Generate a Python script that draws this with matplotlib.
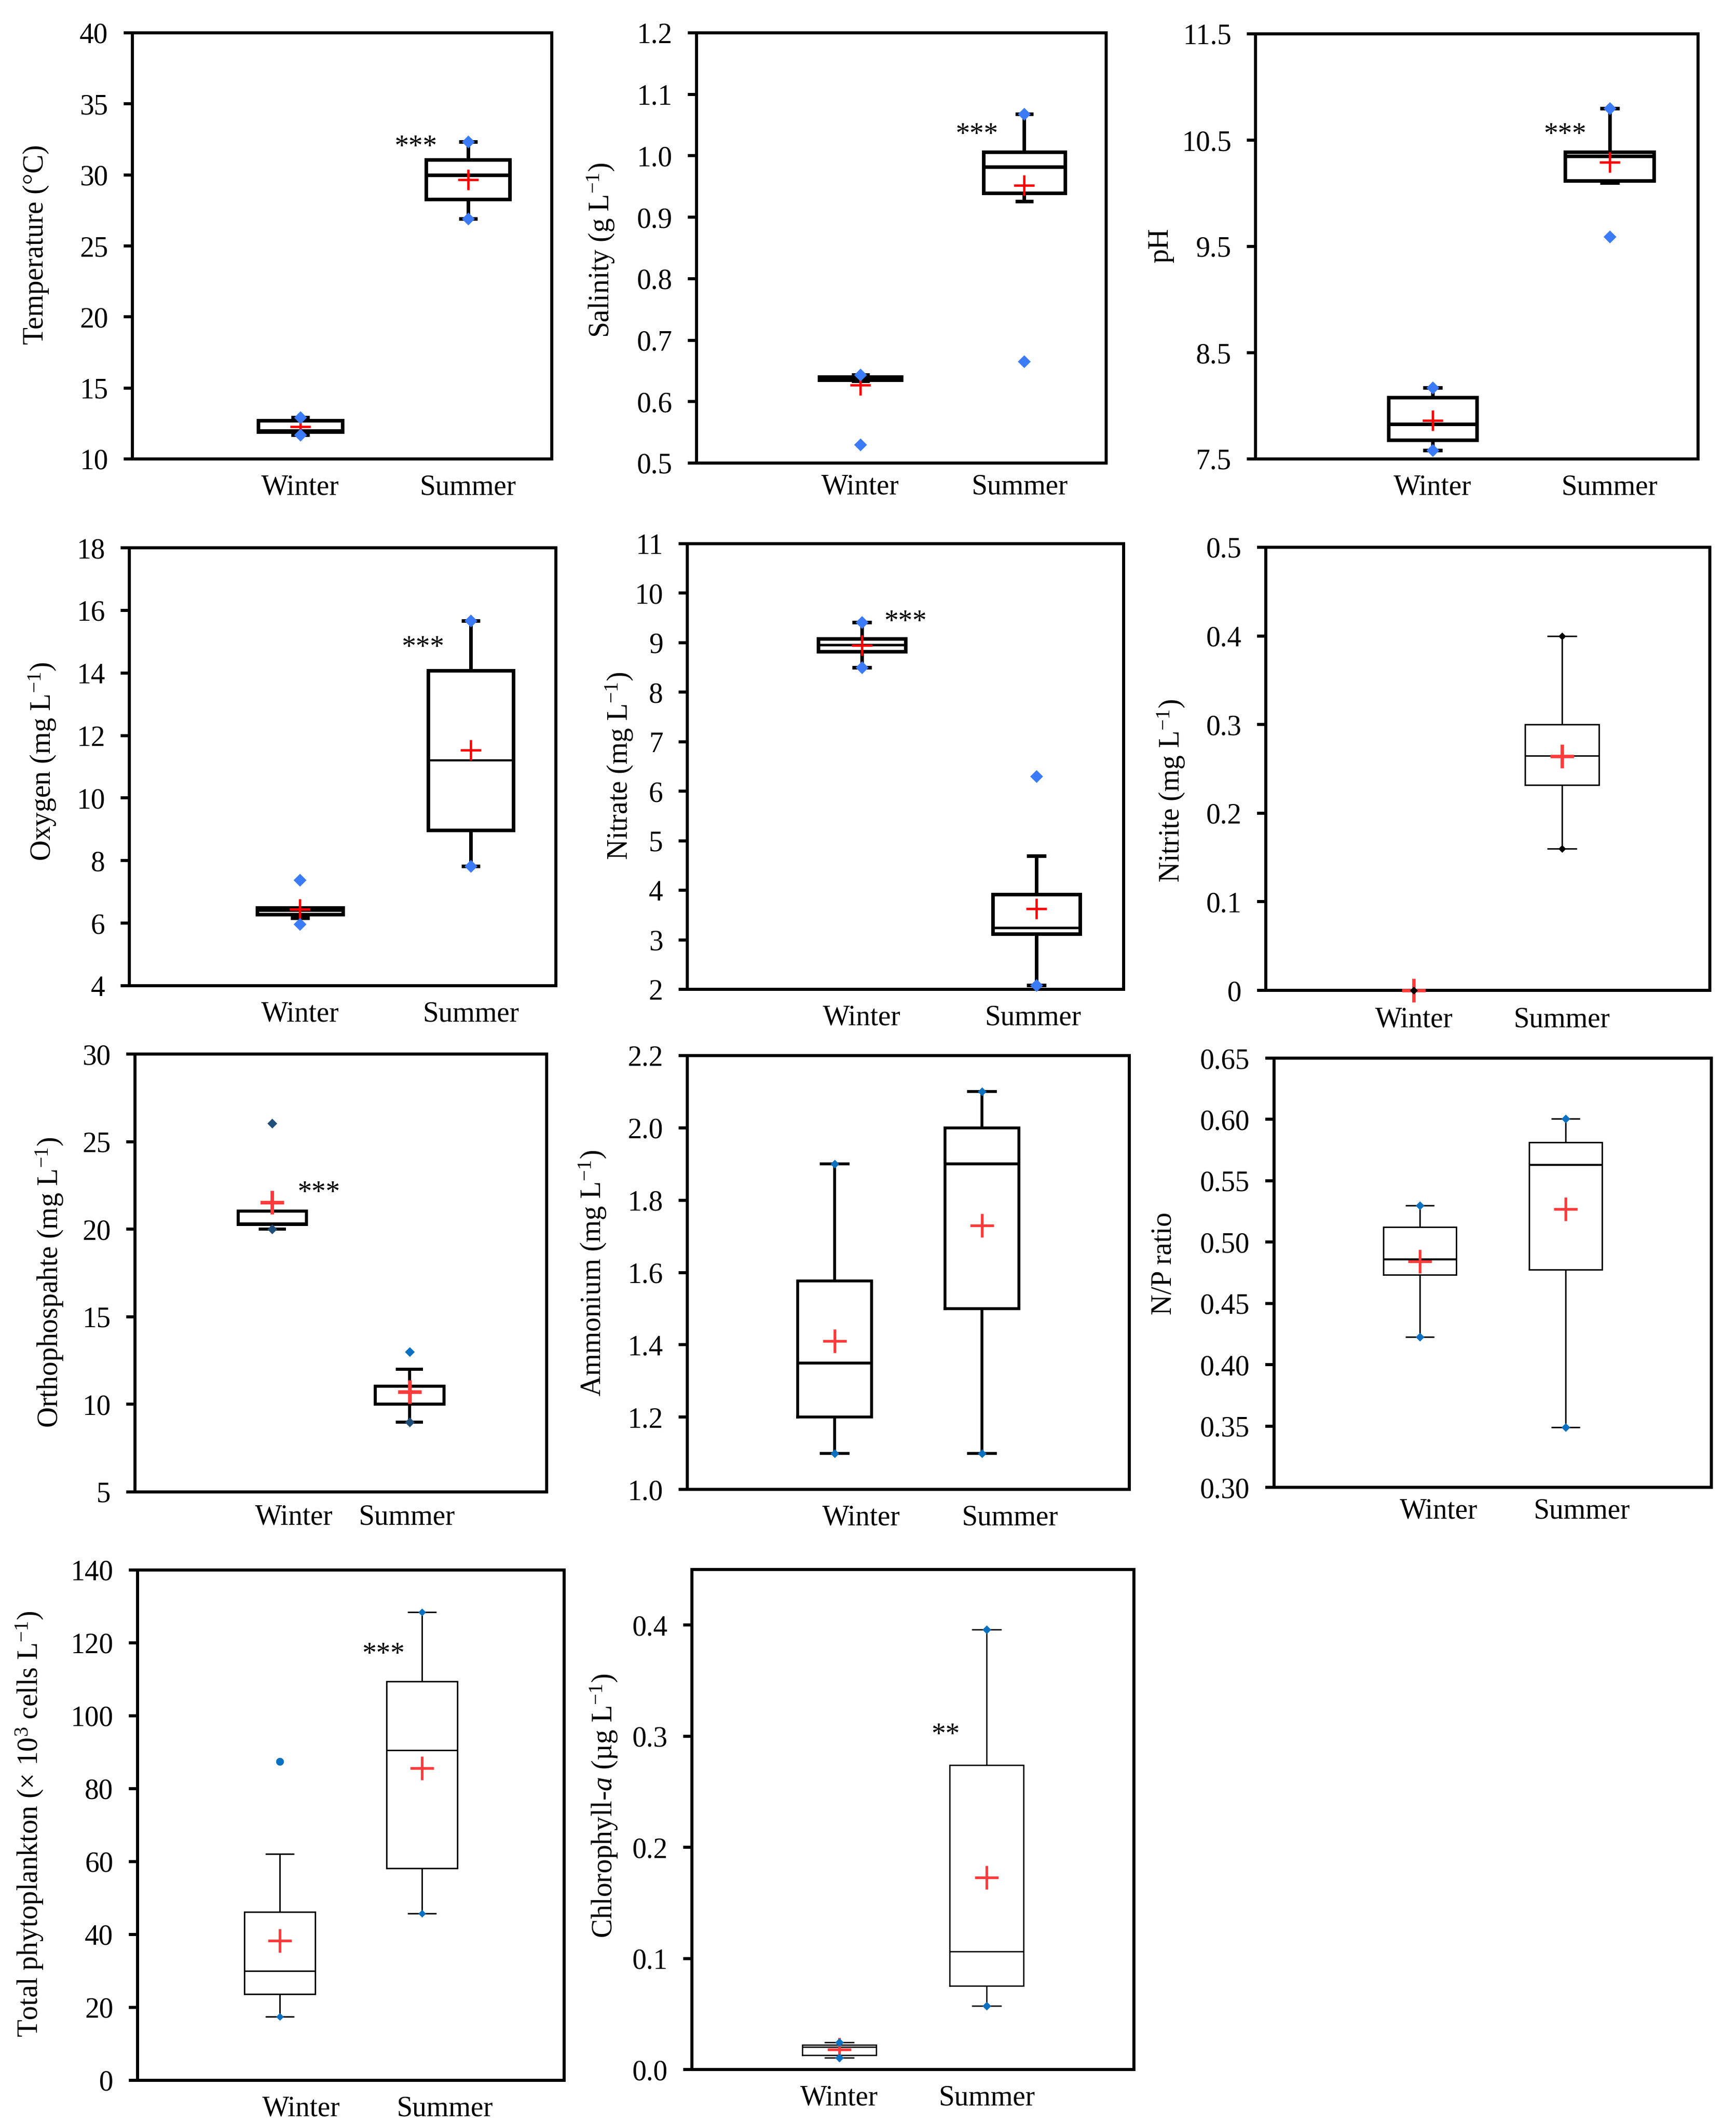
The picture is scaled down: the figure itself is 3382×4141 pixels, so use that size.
import numpy as np
import matplotlib
matplotlib.use('Agg')
import matplotlib.pyplot as plt

plt.rcParams['font.family'] = ['Liberation Serif', 'DejaVu Serif']
plt.rcParams['mathtext.fontset'] = 'custom'
plt.rcParams['mathtext.rm'] = 'Liberation Serif'
plt.rcParams['mathtext.it'] = 'Liberation Serif:italic'

W, H, DPI = 3382, 4141, 100
seasons = ['Winter', 'Summer']

# box values per season: whisker low, q1, median, q3, whisker high
temp_box = [(11.7, 11.92, 12.0, 12.71, 12.94), (26.9, 28.3, 30.0, 31.08, 32.32)]
temp_mean = [12.26, 29.65]
temp_min = [11.7, 26.9]
temp_max = [12.94, 32.32]

sal_box = [(0.634, 0.635, 0.638, 0.640, 0.644), (0.926, 0.939, 0.982, 1.006, 1.068)]
sal_mean = [0.627, 0.952]
sal_min = [0.530, 0.665]
sal_max = [0.644, 1.068]

ph_box = [(7.58, 7.68, 7.83, 8.08, 8.17), (10.10, 10.12, 10.35, 10.39, 10.80)]
ph_mean = [7.86, 10.29]
ph_min = [7.58, 9.59]
ph_max = [8.17, 10.80]

oxy_box = [(6.16, 6.28, 6.39, 6.49, 6.49), (7.83, 8.98, 11.2, 14.08, 15.67)]
oxy_mean = [6.44, 11.54]
oxy_min = [5.97, 7.83]
oxy_max = [7.38, 15.67]

nitrate_box = [(8.50, 8.82, 8.96, 9.08, 9.41), (2.08, 3.12, 3.24, 3.92, 4.70)]
nitrate_mean = [8.95, 3.63]
nitrate_min = [8.50, 2.08]
nitrate_max = [9.41, 6.30]

nitrite_box = [(0, 0, 0, 0, 0), (0.160, 0.232, 0.265, 0.300, 0.400)]
nitrite_mean = [0.0, 0.264]
nitrite_min = [0.0, 0.160]
nitrite_max = [0.0, 0.400]

ortho_box = [(20.0, 20.26, 20.3, 21.03, 21.03), (9.0, 10.0, 10.0, 11.04, 12.0)]
ortho_mean = [21.54, 10.71]
ortho_min = [20.0, 9.0]
ortho_max = [26.03, 13.0]

amm_box = [(1.10, 1.20, 1.35, 1.576, 1.90), (1.10, 1.50, 1.90, 2.00, 2.10)]
amm_mean = [1.41, 1.73]
amm_min = [1.10, 1.10]
amm_max = [1.90, 2.10]

np_box = [(0.4227, 0.4734, 0.4857, 0.5122, 0.530), (0.3489, 0.4776, 0.5629, 0.5812, 0.6008)]
np_mean = [0.4844, 0.527]
np_min = [0.4227, 0.3489]
np_max = [0.530, 0.6008]

phyto_box = [(17.4, 23.6, 30.05, 46.2, 62.05), (45.8, 58.2, 90.5, 109.4, 128.4)]
phyto_mean = [38.3, 85.6]
phyto_min = [17.4, 45.8]
phyto_max = [87.4, 128.4]

chl_box = [(0.0104, 0.0131, 0.0205, 0.0222, 0.0246), (0.0572, 0.0754, 0.1064, 0.274, 0.396)]
chl_mean = [0.0182, 0.173]
chl_min = [0.0104, 0.0572]
chl_max = [0.0246, 0.396]

# axis texts and ticks
temp_ticks = [10, 15, 20, 25, 30, 35, 40]
sal_ticks = [0.5, 0.6, 0.7, 0.8, 0.9, 1.0, 1.1, 1.2]
ph_ticks = [7.5, 8.5, 9.5, 10.5, 11.5]
oxy_ticks = [4, 6, 8, 10, 12, 14, 16, 18]
nitrate_ticks = [2, 3, 4, 5, 6, 7, 8, 9, 10, 11]
nitrite_ticks = [0, 0.1, 0.2, 0.3, 0.4, 0.5]
ortho_ticks = [5, 10, 15, 20, 25, 30]
amm_ticks = [1.0, 1.2, 1.4, 1.6, 1.8, 2.0, 2.2]
np_ticks = [0.30, 0.35, 0.40, 0.45, 0.50, 0.55, 0.60, 0.65]
phyto_ticks = [0, 20, 40, 60, 80, 100, 120, 140]
chl_ticks = [0.0, 0.1, 0.2, 0.3, 0.4]

BLUE1 = '#3b7bf7'
BLUE2 = '#0a70c0'
NAVY = '#1f4e79'

# panel layout in pixels: left, top, right, bottom ; label centre (x offset, y)
panels = [
    dict(box=temp_box, mean=temp_mean, vmin=temp_min, vmax=temp_max,
         ylabel='Temperature (°C)', ticks=temp_ticks, fmt='{:.0f}', ylim=(10, 40),
         rect=(258, 64, 1075, 894), lab=(-188, 476), style='A', stars=('***', 1.69, 32.86)),
    dict(box=sal_box, mean=sal_mean, vmin=sal_min, vmax=sal_max,
         ylabel='Salinity (g L$^{-1}$)', ticks=sal_ticks, fmt='{:.1f}', ylim=(0.5, 1.2),
         rect=(1357, 64, 2155, 902), lab=(-186, 487), style='A', stars=('***', 1.71, 1.055),
         xl=[1, 1.97], xpad=15),
    dict(box=ph_box, mean=ph_mean, vmin=ph_min, vmax=ph_max,
         ylabel='pH', ticks=ph_ticks, fmt='{:.1f}', ylim=(7.5, 11.5),
         rect=(2446, 66, 3308, 894), lab=(-185, 478), style='A', stars=('***', 1.75, 10.67)),
    dict(box=oxy_box, mean=oxy_mean, vmin=oxy_min, vmax=oxy_max,
         ylabel='Oxygen (mg L$^{-1}$)', ticks=oxy_ticks, fmt='{:.0f}', ylim=(4, 18),
         rect=(252, 1067, 1083, 1920), lab=(-169, 1483), style='A', mlw=3.0,
         stars=('***', 1.72, 15.21)),
    dict(box=nitrate_box, mean=nitrate_mean, vmin=nitrate_min, vmax=nitrate_max,
         ylabel='Nitrate (mg L$^{-1}$)', ticks=nitrate_ticks, fmt='{:.0f}', ylim=(2, 11),
         rect=(1339, 1059, 2189, 1927), lab=(-132, 1492), style='A', mlw=3.5,
         stars=('***', 1.25, 9.67), xl=[1, 1.98]),
    dict(box=nitrite_box, mean=nitrite_mean, vmin=nitrite_min, vmax=nitrite_max,
         ylabel='Nitrite (mg L$^{-1}$)', ticks=nitrite_ticks, fmt='{:g}', ylim=(0, 0.5),
         rect=(2466, 1066, 3331, 1929), lab=(-184, 1540), style='B', lw=2.0,
         dot='k', dms=7.5, pmew=4.8, xpad=23),
    dict(box=ortho_box, mean=ortho_mean, vmin=ortho_min, vmax=ortho_max,
         ylabel='Orthophospahte (mg L$^{-1}$)', ticks=ortho_ticks, fmt='{:.0f}', ylim=(5, 30),
         rect=(263, 2053, 1065, 2906), lab=(-166, 2498), style='B', lw=4.3,
         dot=NAVY, dotmax=[NAVY, BLUE2], dms=9, pmew=5.0, stars=('***', 1.34, 22.8),
         xl=[1.16, 1.98], xpad=17),
    dict(box=amm_box, mean=amm_mean, vmin=amm_min, vmax=amm_max,
         ylabel='Ammonium (mg L$^{-1}$)', ticks=amm_ticks, fmt='{:.1f}', ylim=(1.0, 2.2),
         rect=(1339, 2056, 2200, 2901), lab=(-184, 2480), style='B', lw=4.0,
         xl=[1.18, 2.19]),
    dict(box=np_box, mean=np_mean, vmin=np_min, vmax=np_max,
         ylabel='N/P ratio', ticks=np_ticks, fmt='{:.2f}', ylim=(0.30, 0.65),
         rect=(2482, 2061, 3334, 2897), lab=(-215, 2461), style='B', lw=2.0, mlw=2.8,
         xl=[1.13, 2.11], xpad=15),
    dict(box=phyto_box, mean=phyto_mean, vmin=phyto_min, vmax=phyto_max,
         ylabel='Total phytoplankton (× 10$^{3}$ cells L$^{-1}$)', ticks=phyto_ticks,
         fmt='{:.0f}', ylim=(0, 140),
         rect=(268, 3058, 1099, 4052), lab=(-210, 3553), style='B', lw=2.0, dms=7.5,
         maxmark=['o', 'D'], stars=('***', 1.73, 120.3), xl=[1.15, 2.16]),
    dict(box=chl_box, mean=chl_mean, vmin=chl_min, vmax=chl_max,
         ylabel='Chlorophyll-$a$ (µg L$^{-1}$)', ticks=chl_ticks, fmt='{:.1f}', ylim=(0, 0.45),
         rect=(1348, 3057, 2209, 4031), lab=(-171, 3517), style='B', lw=1.8,
         stars=('**', 1.72, 0.3125)),
]

fig = plt.figure(figsize=(W / DPI, H / DPI), dpi=DPI)
FS = 40
SPINE = 4.3

for p in panels:
    l, t, r, b = p['rect']
    ax = fig.add_axes([l / W, 1 - b / H, (r - l) / W, (b - t) / H])
    A = p['style'] == 'A'
    lw = p.get('lw', 5.0)
    mlw = p.get('mlw', lw)
    capw = 0.11 if A else 0.2
    pc = '#ff0000' if A else '#ff3b3b'
    pms = 29 if A else 33
    pmew = p.get('pmew', 3.3 if A else 3.8)
    dot = p.get('dot', BLUE1 if A else BLUE2)
    dms = p.get('dms', 12.5 if A else 8.5)

    stats = []
    for name, bx, m in zip(seasons, p['box'], p['mean']):
        stats.append(dict(label=name, whislo=bx[0], q1=bx[1], med=bx[2], q3=bx[3],
                          whishi=bx[4], mean=m, fliers=[]))
    line = dict(color='k', linewidth=lw, solid_capstyle='butt')
    ax.bxp(stats, positions=[1, 2], widths=0.5, capwidths=capw,
           showmeans=True, showfliers=False, manage_ticks=False,
           boxprops=dict(color='k', linewidth=lw, solid_joinstyle='miter'),
           whiskerprops=line, capprops=line,
           medianprops=dict(color='k', linewidth=mlw, solid_capstyle='butt'),
           meanprops=dict(marker='+', markeredgecolor=pc, markersize=pms,
                          markeredgewidth=pmew, linestyle='none', zorder=4, clip_on=False))

    # markers at the minimum and maximum values
    xs = [1, 2]
    maxcol = p.get('dotmax', [dot, dot])
    maxmark = p.get('maxmark', ['D', 'D'])
    for i in range(2):
        ax.plot(xs[i], p['vmin'][i], marker='D', color=dot, markersize=dms,
                markeredgewidth=0.5, linestyle='none', zorder=5, clip_on=False)
        ms = dms * 1.4 if maxmark[i] == 'o' else dms
        ax.plot(xs[i], p['vmax'][i], marker=maxmark[i], color=maxcol[i], markersize=ms,
                markeredgewidth=0.5, linestyle='none', zorder=5, clip_on=False)

    ax.set_xlim(0, 2.5 if A else 3)
    ax.set_ylim(*p['ylim'])
    ax.set_yticks(p['ticks'])
    ax.set_yticklabels([p['fmt'].format(v) for v in p['ticks']])
    ax.set_xticks(p.get('xl', xs))
    ax.set_xticklabels(seasons)
    ax.tick_params(axis='y', direction='out', length=12, width=SPINE, pad=22, labelsize=FS)
    ax.tick_params(axis='x', length=0, pad=p.get('xpad', 21), labelsize=FS)
    for s in ax.spines.values():
        s.set_linewidth(SPINE)

    ax.set_ylabel(p['ylabel'], fontsize=FS)
    lx, ly = p['lab']
    ax.yaxis.set_label_coords(lx / (r - l), (b - ly) / (b - t))
    ax.yaxis.label.set_verticalalignment('center')

    if 'stars' in p:
        s, sx, sy = p['stars']
        ax.text(sx, sy, s, fontsize=FS, ha='center', va='top')

fig.savefig('out.png', dpi=DPI)
